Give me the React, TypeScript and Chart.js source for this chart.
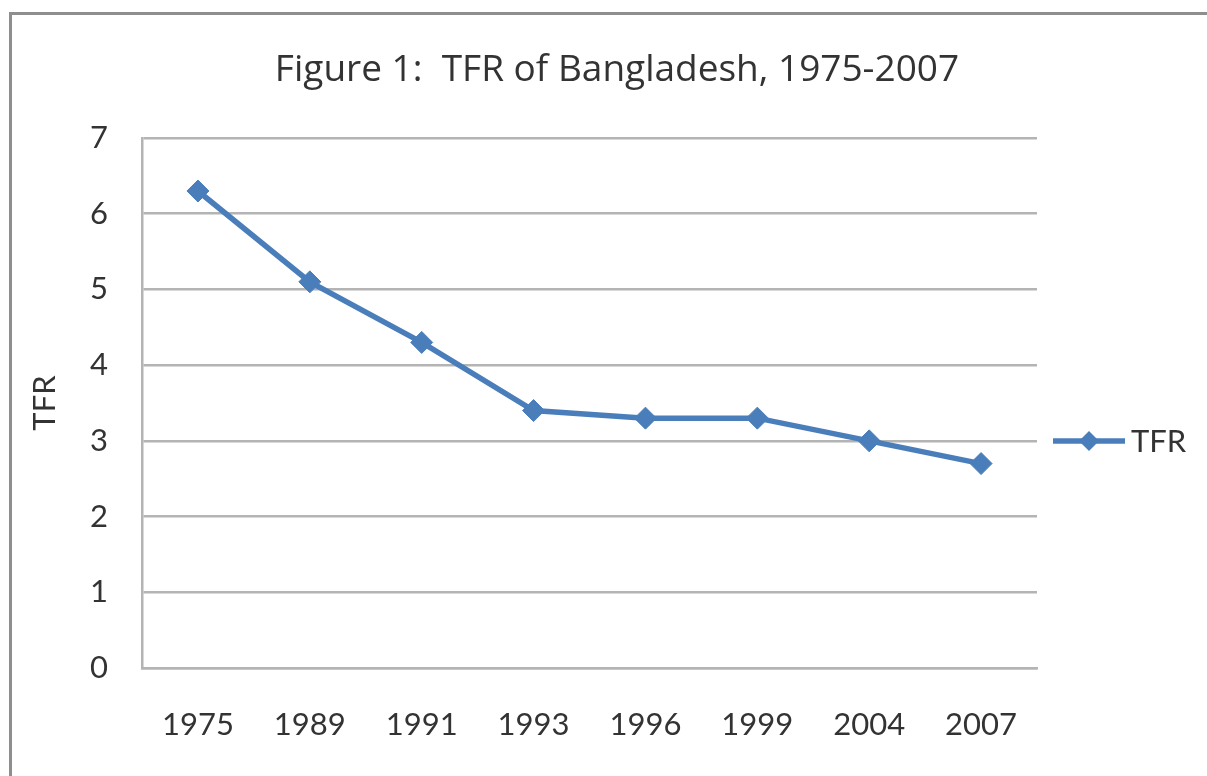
import React, { useEffect, useRef } from "react";
import { Chart, registerables } from "chart.js";

Chart.register(...registerables);

const years = ["1975", "1989", "1991", "1993", "1996", "1999", "2004", "2007"];
const tfrValues = [6.3, 5.1, 4.3, 3.4, 3.3, 3.3, 3.0, 2.7];
const seriesLabel = "TFR";
const chartTitle = "Figure 1:  TFR of Bangladesh, 1975-2007";
const yAxisTitle = "TFR";

const FONT = "Lato, 'Open Sans', sans-serif";
const TITLE_FONT = "'Open Sans', Lato, sans-serif";
const LINE_COLOR = "#4a7ebb";
const TEXT_COLOR = "#333333";
const GRID_COLOR = "#b4b4b4";

const titleAndLegendPlugin = {
  id: "titleAndLegend",
  afterDraw(chart: any) {
    const ctx = chart.ctx;
    ctx.save();
    // title
    ctx.fillStyle = TEXT_COLOR;
    ctx.font = `37px ${TITLE_FONT}`;
    ctx.textAlign = "center";
    ctx.textBaseline = "middle";
    ctx.fillText(chartTitle, 617, 70);

    // legend
    const ds = chart.data.datasets[0];
    const y = 441;
    const x0 = 1053;
    const x1 = 1125;
    ctx.strokeStyle = ds.borderColor;
    ctx.lineWidth = 5.5;
    ctx.beginPath();
    ctx.moveTo(x0, y);
    ctx.lineTo(x1, y);
    ctx.stroke();
    const cx = (x0 + x1) / 2;
    const r = 10;
    ctx.fillStyle = ds.borderColor;
    ctx.beginPath();
    ctx.moveTo(cx, y - r);
    ctx.lineTo(cx + r, y);
    ctx.lineTo(cx, y + r);
    ctx.lineTo(cx - r, y);
    ctx.closePath();
    ctx.fill();
    ctx.fillStyle = TEXT_COLOR;
    ctx.font = `31px ${FONT}`;
    ctx.textBaseline = "middle";
    ctx.textAlign = "left";
    ctx.fillText(ds.label, 1131, y + 1);
    ctx.restore();
  },
};

export default function App() {
  const canvasRef = useRef<HTMLCanvasElement | null>(null);

  useEffect(() => {
    if (!canvasRef.current) return;
    const chart = new Chart(canvasRef.current, {
      type: "line",
      data: {
        labels: years,
        datasets: [
          {
            label: seriesLabel,
            data: tfrValues,
            borderColor: LINE_COLOR,
            backgroundColor: LINE_COLOR,
            borderWidth: 5.5,
            pointStyle: "rectRot",
            pointRadius: 11,
            pointBorderWidth: 1,
            pointBackgroundColor: LINE_COLOR,
            pointBorderColor: LINE_COLOR,
            tension: 0,
          },
        ],
      },
      options: {
        animation: false,
        responsive: false,
        maintainAspectRatio: false,
        layout: { padding: { left: 26, right: 170, top: 138, bottom: 0 } },
        plugins: {
          legend: { display: false },
          tooltip: { enabled: false },
          title: { display: false },
        },
        scales: {
          x: {
            offset: true,
            grid: { display: false, drawTicks: false },
            border: { display: true, color: GRID_COLOR, width: 2.5 },
            ticks: {
              color: TEXT_COLOR,
              font: { family: FONT, size: 31 },
              padding: 38,
              maxRotation: 0,
            },
            afterFit(scale: any) {
              scale.height = 108;
            },
          },
          y: {
            min: 0,
            max: 7,
            ticks: {
              stepSize: 1,
              color: TEXT_COLOR,
              font: { family: FONT, size: 31 },
              padding: 34,
            },
            grid: { color: GRID_COLOR, lineWidth: 2.5, drawTicks: false },
            border: { display: true, color: GRID_COLOR, width: 2.5 },
            title: {
              display: true,
              text: yAxisTitle,
              color: TEXT_COLOR,
              font: { family: FONT, size: 31 },
              padding: 0,
            },
            afterFit(scale: any) {
              scale.width = 142 - 26;
            },
          },
        },
      },
      plugins: [titleAndLegendPlugin],
    });
    return () => chart.destroy();
  }, []);

  return (
    <div
      style={{
        position: "fixed",
        left: 0,
        top: 0,
        width: 1207,
        height: 776,
        overflow: "hidden",
        background: "#ffffff",
      }}
    >
      <div
        style={{
          position: "absolute",
          left: 9,
          top: 12,
          width: 1260,
          height: 820,
          border: "3px solid #8e8e8e",
          boxSizing: "border-box",
        }}
      />
      <canvas
        ref={canvasRef}
        width={1207}
        height={776}
        style={{ position: "absolute", left: 0, top: 0, width: 1207, height: 776 }}
      />
    </div>
  );
}
